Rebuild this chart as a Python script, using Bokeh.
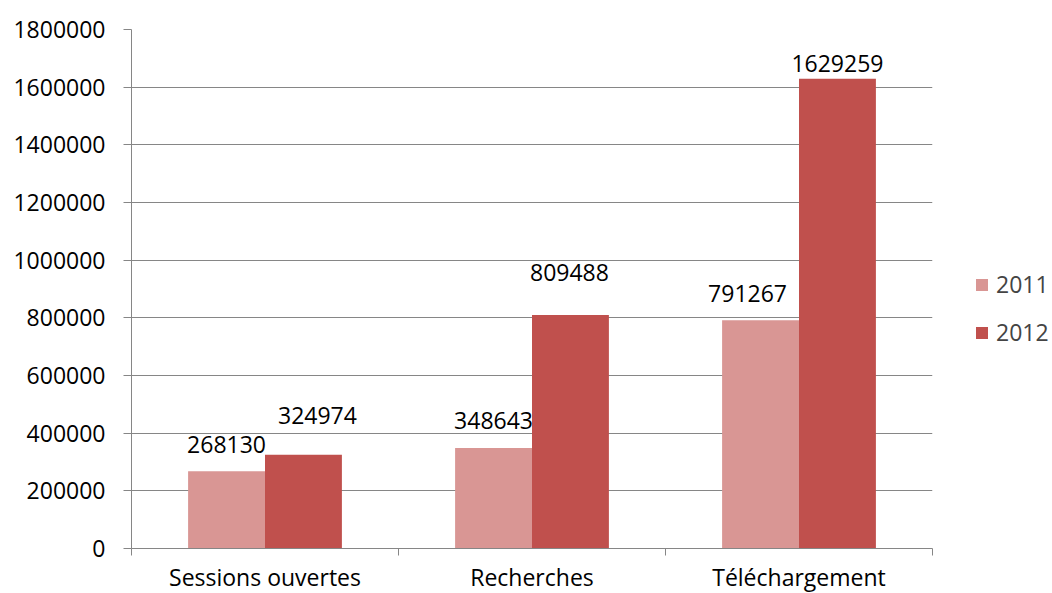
from bokeh.plotting import figure
from bokeh.models import (ColumnDataSource, FixedTicker, Legend, LegendItem,
                          BasicTickFormatter, Range1d)
from bokeh.transform import dodge
from bokeh.core.properties import value
from bokeh.embed import file_html
from bokeh.resources import INLINE

# ---- data ----
categories = ["Sessions ouvertes", "Recherches", "Téléchargement"]
years = ["2011", "2012"]
values_2011 = [268130, 348643, 791267]
values_2012 = [324974, 809488, 1629259]
y_ticks = [0, 200000, 400000, 600000, 800000, 1000000, 1200000, 1400000, 1600000, 1800000]

# ---- style ----
FONT = "Open Sans"
FS = "23px"
C2011 = "#D99694"
C2012 = "#C0504D"
GRID = "#868686"
BAR_W = 0.288
# label placement offsets (screen px) relative to bar top centre
off_2011 = [(0, -27), (0, -27), (-13, -27)]
off_2012 = [(14, -39), (-1, -43), (0, -15)]

centers = [i + 0.5 for i in range(len(categories))]

src = ColumnDataSource(dict(
    x=centers,
    v11=values_2011,
    v12=values_2012,
    l11=[str(v) for v in values_2011],
    l12=[str(v) for v in values_2012],
    dx11=[o[0] for o in off_2011],
    dy11=[o[1] for o in off_2011],
    dx12=[o[0] for o in off_2012],
    dy12=[o[1] for o in off_2012],
))

p = figure(frame_width=801, frame_height=519, x_range=Range1d(0, len(categories)),
           y_range=Range1d(0, y_ticks[-1]), output_backend="svg",
           toolbar_location=None, min_border_left=131, min_border_right=110,
           min_border_top=29, min_border_bottom=40)
p.outline_line_color = None
p.background_fill_color = "white"

r1 = p.vbar(x=dodge("x", -BAR_W / 2, range=p.x_range), top="v11", width=BAR_W,
            source=src, fill_color=C2011, line_color=None)
r2 = p.vbar(x=dodge("x", BAR_W / 2, range=p.x_range), top="v12", width=BAR_W,
            source=src, fill_color=C2012, line_color=None)

p.text(x=dodge("x", -BAR_W / 2, range=p.x_range), y="v11", text="l11",
       x_offset="dx11", y_offset="dy11", source=src,
       text_font=value(FONT), text_font_size=FS, text_align="center",
       text_baseline="middle", text_color="black")
p.text(x=dodge("x", BAR_W / 2, range=p.x_range), y="v12", text="l12",
       x_offset="dx12", y_offset="dy12", source=src,
       text_font=value(FONT), text_font_size=FS, text_align="center",
       text_baseline="middle", text_color="black")

# grid
p.xgrid.grid_line_color = None
p.ygrid.grid_line_color = GRID
p.ygrid.grid_line_width = 1
p.ygrid.ticker = FixedTicker(ticks=y_ticks)

# y axis
p.yaxis.ticker = FixedTicker(ticks=y_ticks)
p.yaxis.formatter = BasicTickFormatter(use_scientific=False)
p.yaxis.axis_line_color = GRID
p.yaxis.major_tick_line_color = GRID
p.yaxis.major_tick_out = 8
p.yaxis.major_tick_in = 0
p.yaxis.minor_tick_line_color = None
p.yaxis.major_label_text_font = FONT
p.yaxis.major_label_text_font_size = FS
p.yaxis.major_label_text_color = "black"
p.yaxis.major_label_standoff = 18

# x axis
p.xaxis.ticker = FixedTicker(ticks=centers, minor_ticks=list(range(len(categories) + 1)))
p.xaxis.major_label_overrides = {c: cat for c, cat in zip(centers, categories)}
p.xaxis.axis_line_color = GRID
p.xaxis.major_tick_out = 0
p.xaxis.major_tick_in = 0
p.xaxis.major_tick_line_color = None
p.xaxis.minor_tick_line_color = GRID
p.xaxis.minor_tick_out = 7
p.xaxis.minor_tick_in = 0
p.xaxis.major_label_text_font = FONT
p.xaxis.major_label_text_font_size = FS
p.xaxis.major_label_text_color = "black"
p.xaxis.major_label_standoff = 5

legend = Legend(items=[LegendItem(label=years[0], renderers=[r1]),
                       LegendItem(label=years[1], renderers=[r2])],
                location=(42, 200), glyph_width=15, glyph_height=15,
                label_text_font=FONT, label_text_font_size=FS,
                label_standoff=7, spacing=16, padding=0, margin=0,
                border_line_color=None, background_fill_alpha=0)
p.add_layout(legend, "right")

open("out.html", "w").write(file_html(p, INLINE))
